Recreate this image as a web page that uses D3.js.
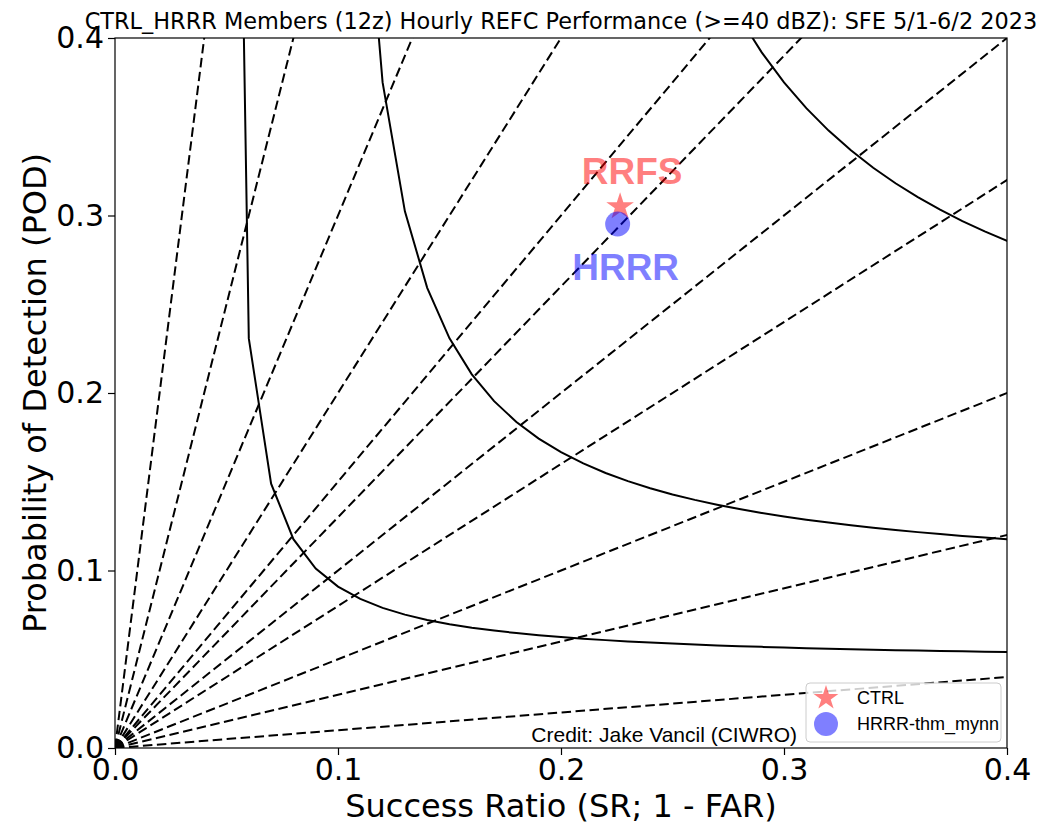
<!DOCTYPE html>
<html>
<head>
<meta charset="utf-8">
<script src="https://cdn.jsdelivr.net/npm/d3@7"></script>
<style>
  body { margin: 0; background: #fff; }
  svg { display: block; }
</style>
</head>
<body>
<div id="chart"></div>
<script>
// performance diagram values
const biasLevels = [0.1, 0.3, 0.5, 0.8, 1, 1.3, 1.5, 2, 3, 5, 10];
const csiLevels = [0.05, 0.1, 0.2, 0.3, 0.4, 0.5, 0.6, 0.7, 0.8, 0.9];
const srSamples = d3.range(1, 101).map((i) => i / 100);
const xTicks = [0, 0.1, 0.2, 0.3, 0.4];
const yTicks = [0, 0.1, 0.2, 0.3, 0.4];

const modelNames = ["CTRL", "HRRR-thm_mynn"];
const modelLabels = ["RRFS", "HRRR"];
const modelSR = [0.2265, 0.2254];
const modelPOD = [0.305, 0.2952];
const modelColors = ["red", "blue"];
const modelShapes = ["star", "circle"];

const titleText =
  "CTRL_HRRR Members (12z) Hourly REFC Performance (>=40 dBZ): SFE 5/1-6/2 2023";

const width = 1044;
const height = 824;
const margin = { top: 38, right: 37, bottom: 76, left: 115 };
const plotW = width - margin.left - margin.right;
const plotH = height - margin.top - margin.bottom;

const svg = d3
  .select("#chart")
  .append("svg")
  .attr("width", width)
  .attr("height", height);

const x = d3.scaleLinear().domain([0, 0.4]).range([0, plotW]);
const y = d3.scaleLinear().domain([0, 0.4]).range([plotH, 0]);

svg
  .append("defs")
  .append("clipPath")
  .attr("id", "plot-clip")
  .append("rect")
  .attr("width", plotW)
  .attr("height", plotH);

const g = svg
  .append("g")
  .attr("transform", "translate(" + margin.left + "," + margin.top + ")");

const inner = g.append("g").attr("clip-path", "url(#plot-clip)");

// bias lines (POD = bias * SR)
inner
  .selectAll(".bias")
  .data(biasLevels)
  .enter()
  .append("line")
  .attr("class", "bias")
  .attr("x1", x(0))
  .attr("y1", y(0))
  .attr("x2", (b) => x(1))
  .attr("y2", (b) => y(b))
  .attr("stroke", "black")
  .attr("stroke-width", 2)
  .attr("stroke-dasharray", "9.5,4.5");

// CSI curves, sampled every 0.01 in SR
const line = d3
  .line()
  .x((d) => x(d[0]))
  .y((d) => y(d[1]));

inner
  .selectAll(".csi")
  .data(csiLevels)
  .enter()
  .append("path")
  .attr("class", "csi")
  .attr("d", (c) => {
    const pts = srSamples
      .filter((sr) => sr >= c - 1e-9)
      .map((sr) => [sr, 1 / (1 / c - 1 / sr + 1)]);
    return line(pts);
  })
  .attr("fill", "none")
  .attr("stroke", "black")
  .attr("stroke-width", 2);

// model markers
function markerPath(shape, r) {
  if (shape === "star") {
    return d3.symbol().type(d3.symbolStar).size((r * r) / 0.8908)();
  }
  return d3.symbol().type(d3.symbolCircle).size(Math.PI * r * r)();
}

const idx = d3.range(modelNames.length);

g.selectAll(".marker")
  .data(idx)
  .enter()
  .append("path")
  .attr("class", "marker")
  .attr("transform", (i) => "translate(" + x(modelSR[i]) + "," + y(modelPOD[i]) + ")")
  .attr("d", (i) => markerPath(modelShapes[i], modelShapes[i] === "star" ? 14.5 : 12.5))
  .attr("fill", (i) => modelColors[i])
  .attr("fill-opacity", 0.5);

// big labels next to markers
const labelOffsets = [
  [12, -23],
  [8, 56],
];
g.selectAll(".mlabel")
  .data(idx)
  .enter()
  .append("text")
  .attr("class", "mlabel")
  .attr("x", (i) => x(modelSR[i]) + labelOffsets[i][0])
  .attr("y", (i) => y(modelPOD[i]) + labelOffsets[i][1])
  .attr("text-anchor", "middle")
  .attr("font-family", "Liberation Sans, Arial, sans-serif")
  .attr("font-weight", "bold")
  .attr("font-size", "37px")
  .attr("fill", (i) => modelColors[i])
  .attr("fill-opacity", 0.5)
  .text((i) => modelLabels[i]);

// frame
g.append("rect")
  .attr("width", plotW)
  .attr("height", plotH)
  .attr("fill", "none")
  .attr("stroke", "black")
  .attr("stroke-width", 1.2);

// axes
const xAxis = g
  .append("g")
  .attr("transform", "translate(0," + plotH + ")")
  .call(d3.axisBottom(x).tickValues(xTicks).tickFormat(d3.format(".1f")).tickSize(7).tickPadding(4));
const yAxis = g
  .append("g")
  .call(d3.axisLeft(y).tickValues(yTicks).tickFormat(d3.format(".1f")).tickSize(7).tickPadding(4));

[xAxis, yAxis].forEach((a) => {
  a.select(".domain").remove();
  a.selectAll("line").attr("stroke", "black").attr("stroke-width", 1.2);
  a.selectAll("text")
    .attr("font-family", "DejaVu Sans, sans-serif")
    .attr("font-size", "30px")
    .attr("fill", "black");
});

// titles
svg
  .append("text")
  .attr("x", margin.left + plotW / 2)
  .attr("y", 29)
  .attr("text-anchor", "middle")
  .attr("font-family", "DejaVu Sans, sans-serif")
  .attr("font-size", "22.4px")
  .text(titleText);

svg
  .append("text")
  .attr("x", margin.left + plotW / 2)
  .attr("y", 817)
  .attr("text-anchor", "middle")
  .attr("font-family", "DejaVu Sans, sans-serif")
  .attr("font-size", "32px")
  .text("Success Ratio (SR; 1 - FAR)");

svg
  .append("text")
  .attr("transform", "translate(46," + (margin.top + plotH / 2) + ") rotate(-90)")
  .attr("text-anchor", "middle")
  .attr("font-family", "DejaVu Sans, sans-serif")
  .attr("font-size", "32px")
  .text("Probability of Detection (POD)");

// credit
g.append("text")
  .attr("x", 682)
  .attr("y", plotH - 6)
  .attr("text-anchor", "end")
  .attr("font-family", "Liberation Sans, Arial, sans-serif")
  .attr("font-size", "21px")
  .text("Credit: Jake Vancil (CIWRO)");

// legend
const legend = g.append("g").attr("transform", "translate(" + (plotW - 201) + "," + (plotH - 65) + ")");
legend
  .append("rect")
  .attr("width", 195)
  .attr("height", 59)
  .attr("rx", 4)
  .attr("fill", "white")
  .attr("fill-opacity", 0.8)
  .attr("stroke", "#cccccc");

const items = legend
  .selectAll(".item")
  .data(idx)
  .enter()
  .append("g")
  .attr("class", "item")
  .attr("transform", (i) => "translate(20," + (15 + i * 26) + ")");

items
  .append("path")
  .attr("d", (i) => markerPath(modelShapes[i], modelShapes[i] === "star" ? 13 : 12))
  .attr("fill", (i) => modelColors[i])
  .attr("fill-opacity", 0.5);

items
  .append("text")
  .attr("x", 31)
  .attr("y", 6)
  .attr("font-family", "Liberation Sans, Arial, sans-serif")
  .attr("font-size", "18px")
  .text((i) => modelNames[i]);
</script>
</body>
</html>
